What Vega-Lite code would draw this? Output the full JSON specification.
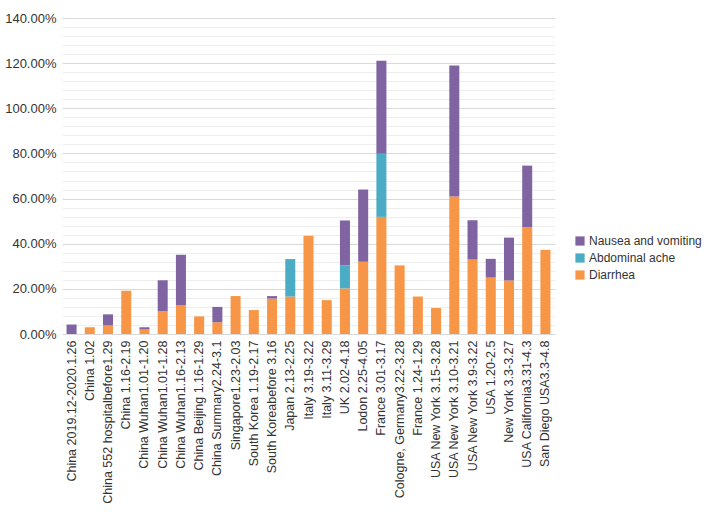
{
  "$schema": "https://vega.github.io/schema/vega-lite/v6.json",
  "width": 493,
  "height": 316,
  "padding": {"left": 4, "top": 12, "right": 5, "bottom": 5},
  "background": "white",
  "config": {
    "font": "Liberation Sans",
    "view": {"stroke": null},
    "axis": {"labelColor": "#333333", "titleColor": "#333333"}
  },
  "data": {
    "values": [
      {"region": "China  2019.12-2020.1.26", "symptom": "Nausea and vomiting", "value": 0.042},
      {"region": "China 1.02", "symptom": "Diarrhea", "value": 0.030},
      {"region": "China 552 hospitalbefore1.29", "symptom": "Diarrhea", "value": 0.038},
      {"region": "China 552 hospitalbefore1.29", "symptom": "Nausea and vomiting", "value": 0.049},
      {"region": "China 1.16-2.19", "symptom": "Diarrhea", "value": 0.192},
      {"region": "China  Wuhan1.01-1.20", "symptom": "Diarrhea", "value": 0.020},
      {"region": "China  Wuhan1.01-1.20", "symptom": "Nausea and vomiting", "value": 0.010},
      {"region": "China  Wuhan1.01-1.28", "symptom": "Diarrhea", "value": 0.101},
      {"region": "China  Wuhan1.01-1.28", "symptom": "Nausea and vomiting", "value": 0.137},
      {"region": "China  Wuhan1.16-2.13", "symptom": "Diarrhea", "value": 0.128},
      {"region": "China  Wuhan1.16-2.13", "symptom": "Nausea and vomiting", "value": 0.223},
      {"region": "China Beijing 1.16-1.29", "symptom": "Diarrhea", "value": 0.078},
      {"region": "China Summary2.24-3.1", "symptom": "Diarrhea", "value": 0.052},
      {"region": "China Summary2.24-3.1", "symptom": "Nausea and vomiting", "value": 0.068},
      {"region": "Singapore1.23-2.03", "symptom": "Diarrhea", "value": 0.168},
      {"region": "South Korea 1.19-2.17", "symptom": "Diarrhea", "value": 0.106},
      {"region": "South Koreabefore 3.16", "symptom": "Diarrhea", "value": 0.157},
      {"region": "South Koreabefore 3.16", "symptom": "Nausea and vomiting", "value": 0.011},
      {"region": "Japan 2.13-2.25", "symptom": "Diarrhea", "value": 0.166},
      {"region": "Japan 2.13-2.25", "symptom": "Abdominal ache", "value": 0.166},
      {"region": "Italy 3.19-3.22", "symptom": "Diarrhea", "value": 0.435},
      {"region": "Italy  3.11-3.29", "symptom": "Diarrhea", "value": 0.150},
      {"region": "UK 2.02-4.18", "symptom": "Diarrhea", "value": 0.202},
      {"region": "UK 2.02-4.18", "symptom": "Abdominal ache", "value": 0.102},
      {"region": "UK 2.02-4.18", "symptom": "Nausea and vomiting", "value": 0.199},
      {"region": "Lodon 2.25-4.05", "symptom": "Diarrhea", "value": 0.320},
      {"region": "Lodon 2.25-4.05", "symptom": "Nausea and vomiting", "value": 0.320},
      {"region": "France 3.01-3.17", "symptom": "Diarrhea", "value": 0.519},
      {"region": "France 3.01-3.17", "symptom": "Abdominal ache", "value": 0.280},
      {"region": "France 3.01-3.17", "symptom": "Nausea and vomiting", "value": 0.412},
      {"region": "Cologne, Germany3.22-3.28", "symptom": "Diarrhea", "value": 0.304},
      {"region": "France 1.24-1.29", "symptom": "Diarrhea", "value": 0.166},
      {"region": "USA New York 3.15-3.28", "symptom": "Diarrhea", "value": 0.115},
      {"region": "USA New York 3.10-3.21", "symptom": "Diarrhea", "value": 0.609},
      {"region": "USA New York 3.10-3.21", "symptom": "Nausea and vomiting", "value": 0.581},
      {"region": "USA New York 3.9-3.22", "symptom": "Diarrhea", "value": 0.330},
      {"region": "USA New York 3.9-3.22", "symptom": "Nausea and vomiting", "value": 0.174},
      {"region": "USA  1.20-2.5", "symptom": "Diarrhea", "value": 0.250},
      {"region": "USA  1.20-2.5", "symptom": "Nausea and vomiting", "value": 0.083},
      {"region": "New York 3.3-3.27", "symptom": "Diarrhea", "value": 0.237},
      {"region": "New York 3.3-3.27", "symptom": "Nausea and vomiting", "value": 0.190},
      {"region": "USA California3.31-4.3", "symptom": "Diarrhea", "value": 0.474},
      {"region": "USA California3.31-4.3", "symptom": "Nausea and vomiting", "value": 0.272},
      {"region": "San Diego USA3.3-4.8", "symptom": "Diarrhea", "value": 0.373}
    ]
  },
  "transform": [
    {"calculate": "indexof(['Diarrhea','Abdominal ache','Nausea and vomiting'], datum.symptom)", "as": "stackOrder"}
  ],
  "mark": {"type": "bar"},
  "encoding": {
    "x": {
      "field": "region",
      "type": "nominal",
      "sort": null,
      "scale": {"paddingInner": 0.45, "paddingOuter": 0.25},
      "axis": {
        "title": null,
        "labelAngle": -90,
        "labelFontSize": 12.5,
        "labelPadding": 6,
        "ticks": false,
        "domain": false,
        "labelLimit": 300
      }
    },
    "y": {
      "field": "value",
      "type": "quantitative",
      "stack": "zero",
      "scale": {"domain": [0, 1.4], "nice": false},
      "axis": {
        "title": null,
        "values": [0, 0.04, 0.08, 0.12, 0.16, 0.2, 0.24, 0.28, 0.32, 0.36, 0.4, 0.44, 0.48, 0.52, 0.56, 0.6, 0.64, 0.68, 0.72, 0.76, 0.8, 0.84, 0.88, 0.92, 0.96, 1.0, 1.04, 1.08, 1.12, 1.16, 1.2, 1.24, 1.28, 1.32, 1.36, 1.4],
        "labelExpr": "round(datum.value*100) % 20 == 0 ? format(datum.value, '.2%') : ''",
        "labelFontSize": 13,
        "labelPadding": 6,
        "ticks": false,
        "domain": false,
        "gridColor": {"condition": {"test": "round(datum.value*100) % 20 == 0", "value": "#d9d9d9"}, "value": "#eeeeee"},
        "gridWidth": 1
      }
    },
    "color": {
      "field": "symptom",
      "type": "nominal",
      "scale": {
        "domain": ["Nausea and vomiting", "Abdominal ache", "Diarrhea"],
        "range": ["#8064A2", "#4BACC6", "#F79646"]
      },
      "legend": {
        "title": null,
        "orient": "none",
        "legendX": 512,
        "legendY": 217,
        "symbolType": "square",
        "symbolSize": 85,
        "symbolStrokeWidth": 0,
        "labelFontSize": 12,
        "labelOffset": 3,
        "labelColor": "#333333",
        "rowPadding": 5
      }
    },
    "order": {"field": "stackOrder", "type": "quantitative", "sort": "ascending"}
  }
}
